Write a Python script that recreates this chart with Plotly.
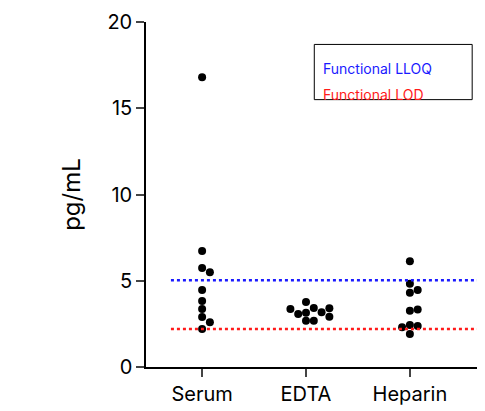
import plotly.graph_objects as go

categories = ["Serum", "EDTA", "Heparin"]
serum = [16.8, 6.72, 5.74, 5.5, 4.46, 3.83, 3.36, 2.9, 2.6, 2.2]
edta = [3.15, 3.42, 2.68, 3.77, 3.07, 3.17, 2.68, 3.36, 2.92, 3.4]
heparin = [6.13, 4.83, 4.31, 4.46, 3.26, 3.34, 2.43, 1.91, 2.38, 2.30]
lloq = 5.03
lod = 2.2

def swarm(vals, center, step=0.075, ytol=0.45):
    placed = []
    out = []
    for v in vals:
        k = 0
        while True:
            cands = [0] if k == 0 else [k, -k]
            ok = None
            for c in cands:
                x = center + c * step
                if all(abs(px - x) > 1e-9 or abs(py - v) >= ytol for px, py in placed):
                    ok = x
                    break
            if ok is not None:
                placed.append((ok, v)); out.append(ok); break
            k += 1
    return out

fig = go.Figure()
xr = [-0.54, 2.8]
for i, vals in enumerate([serum, edta, heparin]):
    fig.add_trace(go.Scatter(x=swarm(vals, i), y=vals, mode="markers",
                             marker=dict(color="black", size=8), showlegend=False))
fig.add_trace(go.Scatter(x=[-0.3, 2.8], y=[lloq, lloq], mode="lines",
                         line=dict(color="#1a1aff", dash="dot", width=2.5), showlegend=False))
fig.add_trace(go.Scatter(x=[-0.3, 2.8], y=[lod, lod], mode="lines",
                         line=dict(color="#ff1a1a", dash="dot", width=2.5), showlegend=False))

fig.add_shape(type="rect", xref="paper", yref="paper", x0=0.485, x1=0.94, y0=0.775, y1=0.935,
              line=dict(color="black", width=1))
fig.add_annotation(xref="paper", yref="paper", x=0.505, y=0.895, xanchor="left", showarrow=False,
                   text="Functional LLOQ", font=dict(color="#1a1aff", size=14))
fig.add_annotation(xref="paper", yref="paper", x=0.505, y=0.82, xanchor="left", showarrow=False,
                   text="Functional LOD", font=dict(color="#ff1a1a", size=14))

fig.update_layout(
    width=485, height=411, margin=dict(l=138, r=0, t=14, b=52),
    plot_bgcolor="white", paper_bgcolor="white",
    font=dict(family="Inter", color="black", size=20),
    xaxis=dict(range=xr, tickvals=[0, 1, 2], ticktext=categories, ticks="outside",
               ticklen=8, tickwidth=1.5, showline=True, linecolor="black", linewidth=1.5,
               showgrid=False, zeroline=False),
    yaxis=dict(range=[0, 20], tickvals=[0, 5, 10, 15, 20], ticks="outside", ticklen=8,
               tickwidth=1.5, showline=True, linecolor="black", linewidth=1.5,
               showgrid=False, zeroline=False, title=dict(text="pg/mL", standoff=20)),
)
fig.write_html("out.html")
